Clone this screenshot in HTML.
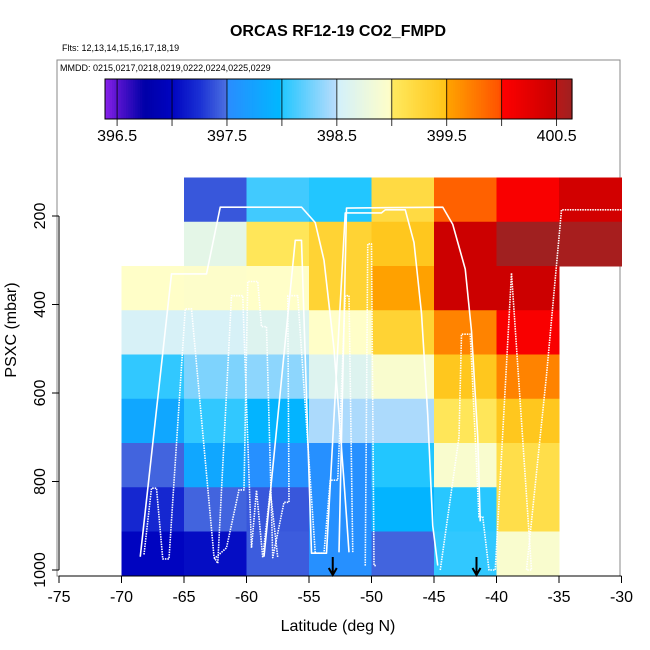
<!DOCTYPE html>
<html><head><meta charset="utf-8"><style>
body{margin:0;background:#fff;}
svg{display:block;font-family:"Liberation Sans",sans-serif;}
</style></head><body>
<svg id="chart" width="650" height="650" viewBox="0 0 650 650">
<rect width="650" height="650" fill="#fff"/>
<text x="338" y="36" text-anchor="middle" font-weight="bold" font-size="16">ORCAS RF12-19 CO2_FMPD</text>
<text x="62" y="51" font-size="9">Flts: 12,13,14,15,16,17,18,19</text>
<rect x="57" y="60" width="563" height="516" fill="none" stroke="#888" stroke-width="1"/>
<text x="60" y="71" font-size="9">MMDD: 0215,0217,0218,0219,0222,0224,0225,0229</text>
<g id="cells"></g><g id="tracks"></g><g id="cbar"></g><g id="axes"></g>
<text transform="translate(16,330) rotate(-90)" text-anchor="middle" font-size="16">PSXC (mbar)</text>
<text x="338" y="631" text-anchor="middle" font-size="16">Latitude (deg N)</text>
</svg>
<script>
const latEdges=[-70,-65,-60,-55,-50,-45,-40,-35,-30];
const presEdges=[113,213,313,413,513,613,713,813,913,1013];
// rows top (113-213) to bottom; null = no data
const row0=[null,397.4,398.1,398.0,399.2,399.9,400.05,400.4];
const row1=[null,398.7,399.05,399.3,399.45,400.45,400.64,400.6];
const row2=[398.99,398.97,398.99,399.3,399.52,400.45,400.45,null];
const row3=[398.55,398.55,398.62,398.99,399.3,399.7,400.05,null];
const row4=[398.05,398.3,398.35,398.62,398.93,399.45,399.7,null];
const row5=[397.8,398.05,397.95,398.45,398.45,399.05,399.45,null];
const row6=[397.45,397.8,397.55,397.55,398.0,398.93,399.15,null];
const row7=[397.2,397.45,397.4,397.55,397.95,398.02,399.15,null];
const row8=[397.0,397.05,397.42,397.55,397.45,398.05,398.93,null];
const grid=[row0,row1,row2,row3,row4,row5,row6,row7,row8];
const xTicks=[-75,-70,-65,-60,-55,-50,-45,-40,-35,-30];
const yTicks=[200,400,600,800,1000];
const cbTicks=[396.5,397.5,398.5,399.5,400.5];
const cbBreaks=[396.5,397,397.5,398,398.5,399,399.5,400,400.5];
const track1=[[-68.5,970],[-66,331],[-63.2,331],[-62.1,180],[-55.6,180],[-54.5,215],[-53.8,300],[-53,500],[-52.2,800],[-51.8,960]];
const track2=[[-68.2,965],[-67.6,815],[-67.2,815],[-66.7,975],[-66.2,975],[-64.9,410],[-64.4,410],[-62.6,970],[-62.3,985],[-61.2,380],[-60.3,380],[-59.6,950],[-59.2,820],[-58.7,972],[-58.1,820],[-57.5,972]];
const track3=[[-62.6,975],[-61.6,950],[-60.6,819],[-60.2,819],[-59.9,348],[-59.1,348],[-58.8,450],[-58.4,450],[-57.9,972],[-57,847],[-56.6,847],[-56.7,380],[-55.9,380],[-54.5,962],[-53.8,962],[-53.3,797],[-52.7,797],[-52.1,380],[-51.8,380],[-51.5,960]];
const track4=[[-58.6,970],[-56.1,255],[-55.6,255],[-54.8,962],[-53.6,962],[-52.1,193],[-49.2,193],[-48.9,186],[-47.3,186],[-46.6,260],[-46,420],[-45.5,650],[-45.1,900],[-44.7,990]];
const track5=[[-52.6,960],[-52,182],[-44.3,180],[-43.5,219],[-42.5,320],[-42,460],[-41.5,700],[-41.3,890]];
const track6=[[-50.5,990],[-50.3,263],[-50,263],[-49.8,990],[-49.6,990]];
const track7=[[-44.5,1000],[-43,700],[-42.8,467],[-42.1,467],[-41.4,880],[-41.1,880],[-40.6,1000],[-40.1,1000],[-38.8,329],[-37.2,1000],[-37.6,1000],[-36,560],[-34.8,186],[-30,186]];
const NS='http://www.w3.org/2000/svg';
const X0=59,XS=12.5; function xs(l){return X0+(l+75)*XS;}
function ys(p){return 216+(p-200)*0.4425;}
const stops=[[396.39,'#8a22ec'],[396.5,'#5a14d0'],[396.75,'#0000a8'],[397,'#0004c0'],[397.25,'#1a30d4'],[397.49,'#4a6ee0'],[397.5,'#2a8cff'],[397.99,'#00b8ff'],[398,'#22c6ff'],[398.49,'#b8dcfc'],[398.5,'#d2f0fc'],[398.99,'#fffec8'],[399,'#ffea60'],[399.49,'#ffc418'],[399.5,'#ffa400'],[399.99,'#ff5200'],[400,'#ff0000'],[400.49,'#c80000'],[400.5,'#b81818'],[400.64,'#a02020']];
function hx(c){return [1,3,5].map(i=>parseInt(c.substr(i,2),16));}
function col(v){v=Math.max(396.39,Math.min(400.64,v));for(let i=1;i<stops.length;i++){if(v<=stops[i][0]){const a=stops[i-1],b=stops[i];const t=(v-a[0])/(b[0]-a[0]||1);const ca=hx(a[1]),cb=hx(b[1]);return 'rgb('+ca.map((x,k)=>Math.round(x+(cb[k]-x)*t)).join(',')+')';}}return stops[stops.length-1][1];}
function mk(tag,at,parent){const e=document.createElementNS(NS,tag);for(const k in at)e.setAttribute(k,at[k]);parent.appendChild(e);return e;}
const cells=document.getElementById('cells');
grid.forEach((row,r)=>row.forEach((v,c)=>{if(v===null)return;
 const y1=ys(presEdges[r]),y2=ys(presEdges[r+1]);
 const e=mk('rect',{x:xs(latEdges[c]),y:y1,width:xs(latEdges[c+1])-xs(latEdges[c])+0.5,height:y2-y1+0.5,fill:col(v)},cells);
 
 }));
const tr=document.getElementById('tracks');
[[track1,false],[track2,true],[track3,true],[track4,false],[track5,false],[track6,true],[track7,true]].forEach(([t,dot])=>{
 const e=mk('polyline',{points:t.map(p=>xs(p[0])+','+ys(p[1])).join(' '),fill:'none',stroke:'#fff','stroke-width':1.6,'stroke-dasharray':dot?'1.5,1':'none','stroke-linejoin':'round'},tr);
 
 });
[-53.1,-41.6].forEach(l=>{const x=xs(l);
 const e=mk('path',{d:`M${x} 557 V574 M${x-4} 568 L${x} 575 L${x+4} 568`,stroke:'#000','stroke-width':2,fill:'none'},tr);
 
 });
const cb=document.getElementById('cbar');const cbx0=105,cbx1=572,cv0=396.39,cv1=400.64;
function cx(v){return cbx0+(v-cv0)/(cv1-cv0)*(cbx1-cbx0);}
for(let i=0;i<200;i++){const v=cv0+(cv1-cv0)*(i+0.5)/200;mk('rect',{x:cbx0+(cbx1-cbx0)*i/200,y:79,width:(cbx1-cbx0)/200+0.6,height:40,fill:col(v)},cb);}
const cbr=mk('rect',{x:cbx0,y:79,width:cbx1-cbx0,height:40,fill:'none',stroke:'#000','stroke-width':1},cb);


cbBreaks.forEach(v=>{mk('line',{x1:cx(v),x2:cx(v),y1:79,y2:126,stroke:'#000','stroke-width':0.8},cb);});
cbTicks.forEach(v=>{const e=mk('text',{x:cx(v),y:141,'text-anchor':'middle','font-size':16},cb);e.textContent=v.toFixed(1);
 
 });
const ax=document.getElementById('axes');
mk('line',{x1:xs(-75),x2:xs(-30),y1:576,y2:576,stroke:'#000'},ax);
xTicks.forEach(v=>{mk('line',{x1:xs(v),x2:xs(v),y1:576,y2:583,stroke:'#000'},ax);
 const e=mk('text',{x:xs(v),y:602,'text-anchor':'middle','font-size':16},ax);e.textContent=v;
 
 });
mk('line',{x1:59,x2:59,y1:ys(200),y2:ys(1000),stroke:'#000'},ax);
yTicks.forEach(v=>{mk('line',{x1:52,x2:59,y1:ys(v),y2:ys(v),stroke:'#000'},ax);
 const e=mk('text',{transform:`translate(45,${ys(v)}) rotate(-90)`,'text-anchor':'middle','font-size':16},ax);e.textContent=v;
 
 });
</script>
</body></html>
